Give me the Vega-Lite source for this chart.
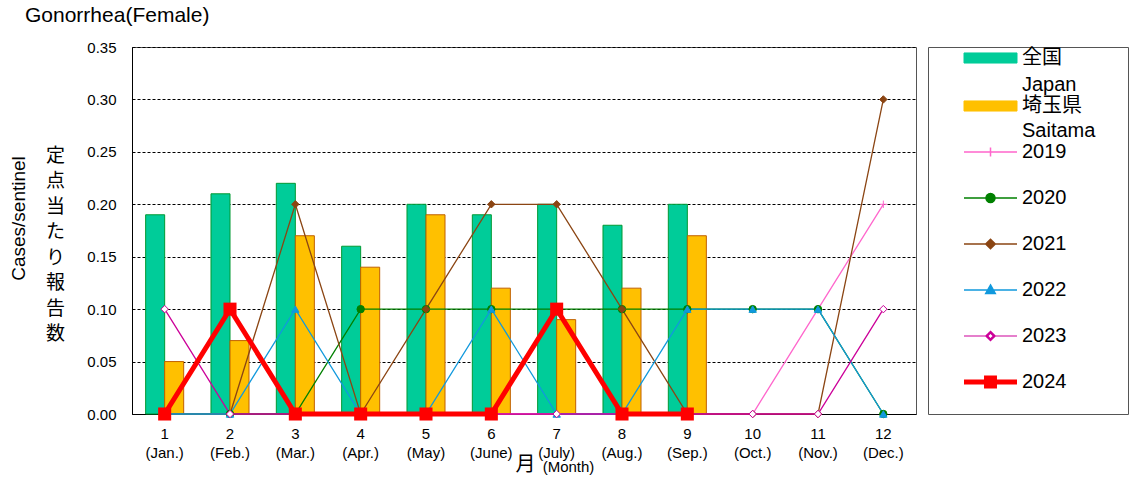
{
  "$schema": "https://vega.github.io/schema/vega-lite/v6.json",
  "autosize": {"type": "none"},
  "padding": {"left": 132, "top": 47, "right": 214, "bottom": 63},
  "width": 784,
  "height": 367,
  "background": "white",
  "title": {
    "text": "Gonorrhea(Female)",
    "anchor": "start",
    "frame": "group",
    "dx": -107,
    "dy": 25,
    "offset": 22,
    "baseline": "alphabetic",
    "fontSize": 21,
    "fontWeight": "normal",
    "color": "#000"
  },
  "config": {
    "font": "Liberation Sans, Noto Sans CJK JP, sans-serif",
    "view": {"stroke": "#555", "strokeWidth": 1},
    "axis": {"labelColor": "#000", "titleColor": "#000", "titleFontWeight": "normal"}
  },
  "datasets": {
    "bars": [
      {"month": 1, "series": "全国", "value": 0.19},
      {"month": 2, "series": "全国", "value": 0.21},
      {"month": 3, "series": "全国", "value": 0.22},
      {"month": 4, "series": "全国", "value": 0.16},
      {"month": 5, "series": "全国", "value": 0.20},
      {"month": 6, "series": "全国", "value": 0.19},
      {"month": 7, "series": "全国", "value": 0.20},
      {"month": 8, "series": "全国", "value": 0.18},
      {"month": 9, "series": "全国", "value": 0.20},
      {"month": 1, "series": "埼玉県", "value": 0.05},
      {"month": 2, "series": "埼玉県", "value": 0.07},
      {"month": 3, "series": "埼玉県", "value": 0.17},
      {"month": 4, "series": "埼玉県", "value": 0.14},
      {"month": 5, "series": "埼玉県", "value": 0.19},
      {"month": 6, "series": "埼玉県", "value": 0.12},
      {"month": 7, "series": "埼玉県", "value": 0.09},
      {"month": 8, "series": "埼玉県", "value": 0.12},
      {"month": 9, "series": "埼玉県", "value": 0.17}
    ],
    "lines": [
      {"month": 1, "series": "2019", "value": 0}, {"month": 2, "series": "2019", "value": 0}, {"month": 3, "series": "2019", "value": 0},
      {"month": 4, "series": "2019", "value": 0}, {"month": 5, "series": "2019", "value": 0}, {"month": 6, "series": "2019", "value": 0},
      {"month": 7, "series": "2019", "value": 0}, {"month": 8, "series": "2019", "value": 0}, {"month": 9, "series": "2019", "value": 0},
      {"month": 10, "series": "2019", "value": 0}, {"month": 11, "series": "2019", "value": 0.10}, {"month": 12, "series": "2019", "value": 0.20},
      {"month": 1, "series": "2020", "value": 0}, {"month": 2, "series": "2020", "value": 0}, {"month": 3, "series": "2020", "value": 0},
      {"month": 4, "series": "2020", "value": 0.10}, {"month": 5, "series": "2020", "value": 0.10}, {"month": 6, "series": "2020", "value": 0.10},
      {"month": 7, "series": "2020", "value": 0.10}, {"month": 8, "series": "2020", "value": 0.10}, {"month": 9, "series": "2020", "value": 0.10},
      {"month": 10, "series": "2020", "value": 0.10}, {"month": 11, "series": "2020", "value": 0.10}, {"month": 12, "series": "2020", "value": 0},
      {"month": 1, "series": "2021", "value": 0}, {"month": 2, "series": "2021", "value": 0}, {"month": 3, "series": "2021", "value": 0.20},
      {"month": 4, "series": "2021", "value": 0}, {"month": 5, "series": "2021", "value": 0.10}, {"month": 6, "series": "2021", "value": 0.20},
      {"month": 7, "series": "2021", "value": 0.20}, {"month": 8, "series": "2021", "value": 0.10}, {"month": 9, "series": "2021", "value": 0},
      {"month": 10, "series": "2021", "value": 0}, {"month": 11, "series": "2021", "value": 0}, {"month": 12, "series": "2021", "value": 0.30},
      {"month": 1, "series": "2022", "value": 0}, {"month": 2, "series": "2022", "value": 0}, {"month": 3, "series": "2022", "value": 0.10},
      {"month": 4, "series": "2022", "value": 0}, {"month": 5, "series": "2022", "value": 0}, {"month": 6, "series": "2022", "value": 0.10},
      {"month": 7, "series": "2022", "value": 0}, {"month": 8, "series": "2022", "value": 0}, {"month": 9, "series": "2022", "value": 0.10},
      {"month": 10, "series": "2022", "value": 0.10}, {"month": 11, "series": "2022", "value": 0.10}, {"month": 12, "series": "2022", "value": 0},
      {"month": 1, "series": "2023", "value": 0.10}, {"month": 2, "series": "2023", "value": 0}, {"month": 3, "series": "2023", "value": 0},
      {"month": 4, "series": "2023", "value": 0}, {"month": 5, "series": "2023", "value": 0}, {"month": 6, "series": "2023", "value": 0},
      {"month": 7, "series": "2023", "value": 0}, {"month": 8, "series": "2023", "value": 0}, {"month": 9, "series": "2023", "value": 0},
      {"month": 10, "series": "2023", "value": 0}, {"month": 11, "series": "2023", "value": 0}, {"month": 12, "series": "2023", "value": 0.10},
      {"month": 1, "series": "2024", "value": 0}, {"month": 2, "series": "2024", "value": 0.10}, {"month": 3, "series": "2024", "value": 0},
      {"month": 4, "series": "2024", "value": 0}, {"month": 5, "series": "2024", "value": 0}, {"month": 6, "series": "2024", "value": 0},
      {"month": 7, "series": "2024", "value": 0.10}, {"month": 8, "series": "2024", "value": 0}, {"month": 9, "series": "2024", "value": 0}
    ]
  },
  "resolve": {"axis": {"x": "independent", "y": "independent"}},
  "layer": [
    {
      "data": {"name": "bars"},
      "mark": {"type": "bar", "strokeWidth": 1},
      "encoding": {
        "x": {
          "field": "month", "type": "ordinal",
          "scale": {"paddingInner": 0.418, "paddingOuter": 0.209},
          "axis": {
            "orient": "bottom",
            "title": "月",
            "titleFontSize": 20,
            "titleX": 393,
            "titleY": 50,
            "titleBaseline": "middle",
            "titleAlign": "center",
            "labelAngle": 0,
            "labelFontSize": 15,
            "labelLineHeight": 19,
            "labelBaseline": "top",
            "labelPadding": 12,
            "labelExpr": "[datum.label, ['(Jan.)','(Feb.)','(Mar.)','(Apr.)','(May)','(June)','(July)','(Aug.)','(Sep.)','(Oct.)','(Nov.)','(Dec.)'][datum.value-1]]",
            "ticks": false,
            "domainColor": "#000",
            "grid": false
          }
        },
        "xOffset": {"field": "series", "type": "nominal", "scale": {"domain": ["全国", "埼玉県"], "paddingInner": 0, "paddingOuter": 0}},
        "y": {
          "field": "value", "type": "quantitative",
          "scale": {"domain": [0, 0.35], "nice": false},
          "axis": {
            "orient": "left",
            "values": [0, 0.05, 0.1, 0.15, 0.2, 0.25, 0.3, 0.35],
            "format": ".2f",
            "grid": true,
            "gridColor": "#000",
            "gridDash": [3, 2],
            "gridWidth": 1,
            "ticks": false,
            "labelPadding": 16,
            "labelFontSize": 15,
            "domainColor": "#000",
            "title": ["定", "点", "当", "た", "り", "報", "告", "数"],
            "titleAngle": 0,
            "titleFontSize": 19,
            "titleLineHeight": 25.5,
            "titleX": -77,
            "titleY": 99,
            "titleAlign": "center",
            "titleBaseline": "top"
          }
        },
        "color": {
          "field": "series", "type": "nominal",
          "scale": {
            "domain": ["全国", "埼玉県", "2019", "2020", "2021", "2022", "2023", "2024"],
            "range": ["#00CC99", "#FFC000", "#FF66CC", "#008000", "#8B4513", "#1199DD", "#CC0099", "#FF0000"]
          },
          "legend": {
            "title": null,
            "orient": "right",
            "offset": 12,
            "padding": 0,
            "strokeColor": "#555",
            "rowPadding": 0,
            "labelFontSize": 20,
            "labelColor": "#000",
            "labelOffset": 4,
            "labelLimit": 300,
            "symbolSize": 2809,
            "symbolStrokeWidth": 1,
            "labelExpr": "datum.label == '全国' ? ['全国', 'Japan'] : datum.label == '埼玉県' ? ['埼玉県', 'Saitama'] : datum.label",
            "encode": {
              "symbols": {
                "update": {
                  "x": {"value": 62.5},
                  "y": {"value": 11},
                  "size": {"value": 2809},
                  "opacity": {"value": 1},
                  "shape": {"signal": "['M5.1,1.2M-1,-0.19H1V0.19H-1Z','M5.1,1.2M-1,-0.19H1V0.19H-1Z','M5.07,1.2M-1,0H1M0,-0.17V0.17','M5.07,1.2M-1,0H1M0.17,0A0.17,0.17 0 1,1 -0.17,0A0.17,0.17 0 1,1 0.17,0Z','M5.07,1.2M-1,0H1M0,-0.18L0.18,0L0,0.18L-0.18,0Z','M5.07,1.2M-1,0H1M0,-0.19L0.18,0.13L-0.18,0.13Z','M5.08,1.087M-1,0H-0.18M0.18,0H1M0,-0.18L0.18,0L0,0.18L-0.18,0ZM0,-0.11L-0.11,0L0,0.11L0.11,0Z','M4.8,0.8M-1,0H1M-0.15,-0.15H0.15V0.15H-0.15Z'][indexof(['全国','埼玉県','2019','2020','2021','2022','2023','2024'], datum.value)]"},
                  "fill": {"signal": "['#00CC99','#FFC000','#FF66CC','#008000','#8B4513','#1199DD','#CC0099','#FF0000'][indexof(['全国','埼玉県','2019','2020','2021','2022','2023','2024'], datum.value)]"},
                  "stroke": {"signal": "['#009933','#C06000','#FF66CC','#008000','#8B4513','#1199DD','#CC0099','#FF0000'][indexof(['全国','埼玉県','2019','2020','2021','2022','2023','2024'], datum.value)]"},
                  "strokeWidth": {"signal": "[1,1,1.5,1.5,1.5,1.5,1.2,5][indexof(['全国','埼玉県','2019','2020','2021','2022','2023','2024'], datum.value)]"}
                }
              },
              "labels": {
                "update": {
                  "x": {"value": 94},
                  "y": {"value": 11},
                  "lineHeight": {"signal": "datum.value == '埼玉県' ? 25 : 27"}
                }
              }
            }
          }
        },
        "stroke": {
          "field": "series", "type": "nominal", "legend": null,
          "scale": {
            "domain": ["全国", "埼玉県", "2019", "2020", "2021", "2022", "2023", "2024"],
            "range": ["#009933", "#C06000", "#FF66CC", "#008000", "#8B4513", "#1199DD", "#CC0099", "#FF0000"]
          }
        }
      }
    },
    {
      "data": {"name": "lines"},
      "transform": [{"filter": "datum.series != '2024'"}],
      "mark": {"type": "line", "strokeWidth": 1.3},
      "encoding": {
        "x": {
          "field": "month", "type": "ordinal",
          "axis": {
            "orient": "bottom",
            "title": "(Month)",
            "titleFontSize": 15,
            "titleX": 436,
            "titleY": 52,
            "titleBaseline": "middle",
            "titleAlign": "center",
            "labels": false, "ticks": false, "domain": false, "grid": false
          }
        },
        "y": {
          "field": "value", "type": "quantitative",
          "axis": {
            "orient": "left",
            "title": "Cases/sentinel",
            "titleFontSize": 19,
            "titleX": -114,
            "titleY": 171,
            "titleAlign": "center",
            "titleBaseline": "middle",
            "labels": false, "ticks": false, "domain": false, "grid": false
          }
        },
        "color": {"field": "series", "type": "nominal"}
      }
    },
    {
      "data": {"name": "lines"},
      "transform": [{"filter": "datum.series != '2024'"}],
      "mark": {"type": "point", "filled": true, "size": 55, "strokeWidth": 1, "opacity": 1},
      "encoding": {
        "x": {"field": "month", "type": "ordinal", "axis": null},
        "y": {"field": "value", "type": "quantitative", "axis": null},
        "shape": {
          "field": "series", "type": "nominal", "legend": null,
          "scale": {"domain": ["2019", "2020", "2021", "2022", "2023"], "range": ["M-1,0H1M0,-1V1", "circle", "diamond", "triangle-up", "diamond"]}
        },
        "fill": {
          "field": "series", "type": "nominal", "legend": null,
          "scale": {"domain": ["2019", "2020", "2021", "2022", "2023"], "range": ["#FF66CC", "#008000", "#8B4513", "#1199DD", "#FFFFFF"]}
        },
        "stroke": {"field": "series", "type": "nominal", "legend": null}
      }
    },
    {
      "data": {"name": "lines"},
      "transform": [{"filter": "datum.series == '2024'"}],
      "mark": {"type": "line", "strokeWidth": 5},
      "encoding": {
        "x": {"field": "month", "type": "ordinal", "axis": null},
        "y": {"field": "value", "type": "quantitative", "axis": null},
        "color": {"field": "series", "type": "nominal"}
      }
    },
    {
      "data": {"name": "lines"},
      "transform": [{"filter": "datum.series == '2024'"}],
      "mark": {"type": "point", "shape": "square", "filled": true, "size": 170, "color": "#FF0000", "opacity": 1},
      "encoding": {
        "x": {"field": "month", "type": "ordinal", "axis": null},
        "y": {"field": "value", "type": "quantitative", "axis": null}
      }
    }
  ]
}
